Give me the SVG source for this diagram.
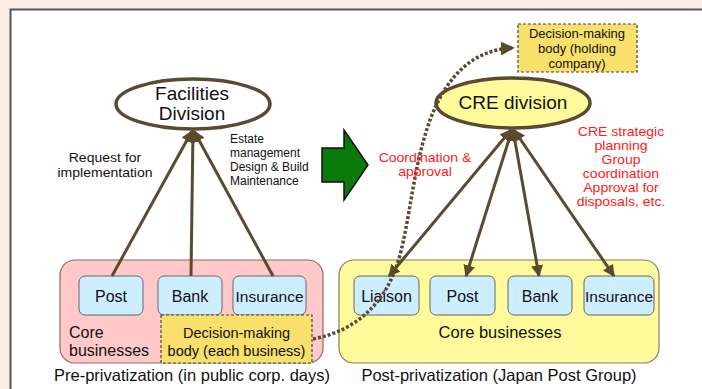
<svg xmlns="http://www.w3.org/2000/svg" width="702" height="389" viewBox="0 0 702 389">
<defs>
<style>
text{font-family:"Liberation Sans",Arial,sans-serif;fill:#111}
.red{fill:#ff1a1a;font-size:12.2px;text-anchor:middle}
.lbl{font-size:13px}
.est{font-size:12px}
.box{fill:#cdeeff;stroke:#666;stroke-width:1}
.bt{font-size:16px;text-anchor:middle}
.dm{fill:#f9df6b;stroke:#444;stroke-width:1.2;stroke-dasharray:3,2}
.link{stroke:#5b4a30;stroke-width:3;fill:none}
.ell{stroke:#5b4a30;stroke-width:3.5}
</style>
<marker id="ah" viewBox="0 0 10 10" refX="9" refY="5" markerWidth="4" markerHeight="4" orient="auto-start-reverse" markerUnits="strokeWidth">
<path d="M0,0 L10,5 L0,10 z" fill="#5b4a30"/>
</marker>
<marker id="ahd" viewBox="0 0 10 10" refX="8" refY="5" markerWidth="4" markerHeight="4" orient="auto" markerUnits="strokeWidth">
<path d="M0,0 L10,5 L0,10 z" fill="#5b4a30"/>
</marker>
</defs>
<rect x="0" y="0" width="702" height="389" fill="#fcede4"/>
<rect x="10.5" y="9.5" width="700" height="400" fill="#ffffff" stroke="#555" stroke-width="2"/>

<g id="pre-container">
<rect x="60" y="260" width="263" height="103" rx="15" fill="#ffc9c9" stroke="#8c6b5c" stroke-width="1.2"/>
<text x="69" y="338" style="font-size:16px">Core</text>
<text x="69" y="356" style="font-size:16px">businesses</text>
</g>
<g id="post-container">
<rect x="339" y="260" width="320" height="103" rx="15" fill="#fffb9c" stroke="#8c7b5c" stroke-width="1.2"/>
<text x="500" y="338" style="font-size:16.5px;text-anchor:middle">Core businesses</text>
</g>

<g id="pre-post"><rect class="box" x="79" y="276" width="64" height="39" rx="6"/><text class="bt" x="111" y="302">Post</text></g>
<g id="pre-bank"><rect class="box" x="158" y="276" width="64" height="39" rx="6"/><text class="bt" x="190" y="302">Bank</text></g>
<g id="pre-insurance"><rect class="box" x="233" y="276" width="73" height="39" rx="6"/><text class="bt" x="269.5" y="302" style="font-size:15.5px">Insurance</text></g>
<g id="dm-each"><rect class="dm" x="161" y="315" width="151" height="48"/><text x="236.5" y="338" style="font-size:14.5px;text-anchor:middle">Decision-making</text><text x="236.5" y="356" style="font-size:14.5px;text-anchor:middle">body (each business)</text></g>

<g id="post-liaison"><rect class="box" x="354" y="276" width="65" height="39" rx="6"/><text class="bt" x="386.5" y="302">Liaison</text></g>
<g id="post-post"><rect class="box" x="430" y="276" width="65" height="39" rx="6"/><text class="bt" x="462.5" y="302">Post</text></g>
<g id="post-bank"><rect class="box" x="508" y="276" width="64" height="39" rx="6"/><text class="bt" x="540" y="302">Bank</text></g>
<g id="post-insurance"><rect class="box" x="584" y="276" width="70" height="39" rx="6"/><text class="bt" x="619" y="302" style="font-size:15.5px">Insurance</text></g>

<g id="facilities">
<ellipse class="ell" cx="193" cy="104" rx="77" ry="25" fill="#ffffff"/>
<text x="192" y="100" style="font-size:19px;text-anchor:middle">Facilities</text>
<text x="192" y="120" style="font-size:19px;text-anchor:middle">Division</text>
</g>
<g id="cre">
<ellipse class="ell" cx="513" cy="103" rx="77" ry="25" fill="#fffb9c"/>
<text x="513" y="109" style="font-size:19px;text-anchor:middle">CRE division</text>
</g>
<g id="dm-holding">
<rect class="dm" x="518" y="24" width="119" height="48"/>
<text x="577" y="38" style="font-size:13px;text-anchor:middle">Decision-making</text>
<text x="577" y="53" style="font-size:13px;text-anchor:middle">body (holding</text>
<text x="577" y="68" style="font-size:13px;text-anchor:middle">company)</text>
</g>

<g id="arrow-transition">
<path d="M322,148 L344,148 L344,130 L368,165 L344,200 L344,182 L322,182 z" fill="#0a7a0a" stroke="#111" stroke-width="1.5"/>
</g>

<g id="connectors">
<line class="link" x1="112" y1="276" x2="192" y2="131" marker-end="url(#ah)"/>
<line class="link" x1="191" y1="276" x2="193" y2="131" marker-end="url(#ah)"/>
<line class="link" x1="273" y1="276" x2="194" y2="131" marker-end="url(#ah)"/>
<line class="link" x1="511" y1="130" x2="389" y2="276" marker-start="url(#ah)" marker-end="url(#ah)"/>
<line class="link" x1="512" y1="130" x2="466" y2="276" marker-start="url(#ah)" marker-end="url(#ah)"/>
<line class="link" x1="513" y1="130" x2="539" y2="276" marker-start="url(#ah)" marker-end="url(#ah)"/>
<line class="link" x1="514" y1="130" x2="614" y2="276" marker-start="url(#ah)" marker-end="url(#ah)"/>
<path d="M313,339 C360,330 385,300 397,265 C410,225 412,170 430,120 C445,80 470,50 512,48" stroke="#5b4a30" stroke-width="3.5" fill="none" stroke-dasharray="3,2" marker-end="url(#ahd)"/>
</g>

<g id="labels">
<g transform="translate(105,0) scale(1.08,1)">
<text class="lbl" x="0" y="162" text-anchor="middle">Request for</text>
<text class="lbl" x="0" y="177" text-anchor="middle">implementation</text>
</g>
<text class="est" x="230" y="143">Estate</text>
<text class="est" x="230" y="157">management</text>
<text class="est" x="230" y="171">Design &amp; Build</text>
<text class="est" x="230" y="185">Maintenance</text>
<g transform="translate(425,0) scale(1.15,1)">
<text class="red" x="0" y="162">Coordination &amp;</text>
<text class="red" x="0" y="176">approval</text>
</g>
<g transform="translate(621,0) scale(1.15,1)">
<text class="red" x="0" y="136">CRE strategic</text>
<text class="red" x="0" y="150">planning</text>
<text class="red" x="0" y="164">Group</text>
<text class="red" x="0" y="178">coordination</text>
<text class="red" x="0" y="192">Approval for</text>
<text class="red" x="0" y="206">disposals, etc.</text>
</g>
<text x="192" y="381" style="font-size:16.5px;text-anchor:middle">Pre-privatization (in public corp. days)</text>
<text x="499" y="381" style="font-size:16.5px;text-anchor:middle">Post-privatization (Japan Post Group)</text>
</g>
</svg>
